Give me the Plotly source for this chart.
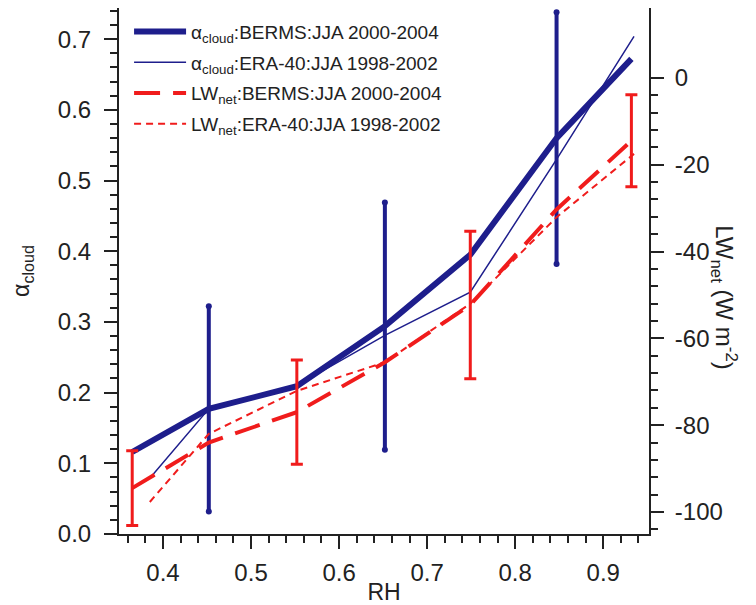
import plotly.graph_objects as go

# ---- data ----
rh_berms = [0.365, 0.452, 0.552, 0.652, 0.749, 0.847, 0.932]
alpha_berms = [0.116, 0.177, 0.209, 0.294, 0.395, 0.560, 0.672]
alpha_berms_err = [0, 0.145, 0, 0.175, 0, 0.178, 0]

rh_era = [0.385, 0.452, 0.552, 0.652, 0.749, 0.847, 0.935]
alpha_era = [0.079, 0.177, 0.210, 0.281, 0.342, 0.530, 0.704]

lw_berms = [-94.5, -84.0, -77.0, -65.5, -52.3, -30.3, -14.5]
lw_err_idx = [0, 2, 4, 6]
lw_berms_err = [8.6, 12.0, 17.0, 10.6]

lw_era = [-97.7, -82.0, -72.1, -65.5, -52.0, -32.1, -17.5]

x_ticks = [0.4, 0.5, 0.6, 0.7, 0.8, 0.9]
y_ticks = [0.0, 0.1, 0.2, 0.3, 0.4, 0.5, 0.6, 0.7]
y2_ticks = [-100, -80, -60, -40, -20, 0]
y2_minor = [v for v in range(-104, 0, 4) if v % 20 != 0]

BLUE = "#1e1e8c"
RED = "#f01c1c"
INK = "#222222"
FONT = "Liberation Sans, Arial, sans-serif"

fig = go.Figure()

# alpha BERMS (thick, with error bars)
fig.add_trace(go.Scatter(
    x=rh_berms, y=alpha_berms, mode="lines",
    line=dict(color=BLUE, width=6),
    error_y=dict(type="data", array=alpha_berms_err, symmetric=True,
                 color=BLUE, thickness=4, width=0),
    name="α<sub>cloud</sub>:BERMS:JJA 2000-2004", legendgroup="a"))

# round ends of alpha error bars
ends_x, ends_y = [], []
for x, y, e in zip(rh_berms, alpha_berms, alpha_berms_err):
    if e > 0:
        ends_x += [x, x]
        ends_y += [y - e, y + e]
fig.add_trace(go.Scatter(x=ends_x, y=ends_y, mode="markers",
                         marker=dict(size=6, color=BLUE),
                         showlegend=False, hoverinfo="skip", legendgroup="a"))

# alpha ERA-40 (thin)
fig.add_trace(go.Scatter(
    x=rh_era, y=alpha_era, mode="lines",
    line=dict(color=BLUE, width=1.5),
    name="α<sub>cloud</sub>:ERA-40:JJA 1998-2002", legendgroup="b"))

# LW BERMS (long dash)
fig.add_trace(go.Scatter(
    x=rh_berms, y=lw_berms, yaxis="y2", mode="lines",
    line=dict(color=RED, width=4, dash="26px,13px"),
    name="LW<sub>net</sub>:BERMS:JJA 2000-2004", legendgroup="c"))

# LW BERMS error bars (no legend)
fig.add_trace(go.Scatter(
    x=[rh_berms[i] for i in lw_err_idx],
    y=[lw_berms[i] for i in lw_err_idx],
    yaxis="y2", mode="markers", marker=dict(size=0.1, color=RED),
    error_y=dict(type="data", array=lw_berms_err, symmetric=True,
                 color=RED, thickness=3, width=6),
    showlegend=False, hoverinfo="skip", legendgroup="c"))

# LW ERA-40 (short dash)
fig.add_trace(go.Scatter(
    x=rh_era, y=lw_era, yaxis="y2", mode="lines",
    line=dict(color=RED, width=2, dash="7px,5px"),
    name="LW<sub>net</sub>:ERA-40:JJA 1998-2002", legendgroup="d"))

axis_common = dict(showline=True, linecolor=INK, linewidth=2,
                   ticks="outside", ticklen=13, tickwidth=2, tickcolor=INK,
                   showgrid=False, zeroline=False, automargin=False,
                   tickfont=dict(family=FONT, size=24, color=INK))
minor_common = dict(ticks="outside", ticklen=7, tickwidth=2, tickcolor=INK)

# the page body has an 8px margin, so the figure is sized/offset to compensate
fig.update_layout(
    width=748, height=597,
    margin=dict(l=111, r=107, t=0, b=71),
    plot_bgcolor="white", paper_bgcolor="white",
    font=dict(family=FONT, color=INK),
    xaxis=dict(range=[0.35, 0.952], tickvals=x_ticks, ticktext=[f"{v:.1f}" for v in x_ticks],
               mirror=True, ticklabelstandoff=3,
               minor=dict(dtick=0.02, tick0=0.0, **minor_common),
               title=dict(text="RH", font=dict(family=FONT, size=23, color=INK), standoff=0),
               **axis_common),
    yaxis=dict(range=[0, 0.744], tickvals=y_ticks, ticktext=[f"{v:.1f}" for v in y_ticks],
               ticklabelstandoff=8,
               minor=dict(dtick=0.02, tick0=0.0, **minor_common),
               title=dict(text="α<sub>cloud</sub>", font=dict(family=FONT, size=23, color=INK), standoff=22),
               **axis_common),
    yaxis2=dict(range=[-105.07, 16.1], overlaying="y", side="right",
                tickvals=y2_ticks, ticktext=[str(v) for v in y2_ticks],
                ticklabelstandoff=6,
                minor=dict(tickmode="array", tickvals=y2_minor, **minor_common),
                **axis_common),
    legend=dict(x=0.019, y=0.991, xanchor="left", yanchor="top",
                bgcolor="rgba(0,0,0,0)", borderwidth=0, traceorder="grouped",
                font=dict(family=FONT, size=19, color=INK),
                tracegroupgap=3, itemwidth=52),
    annotations=[dict(text="LW<sub>net</sub> (W m<sup>-2</sup>)", textangle=90,
                      xref="paper", yref="paper", x=1.0, y=0.45, xshift=94,
                      showarrow=False, font=dict(family=FONT, size=24, color=INK))],
)

fig.write_html("out.html")
